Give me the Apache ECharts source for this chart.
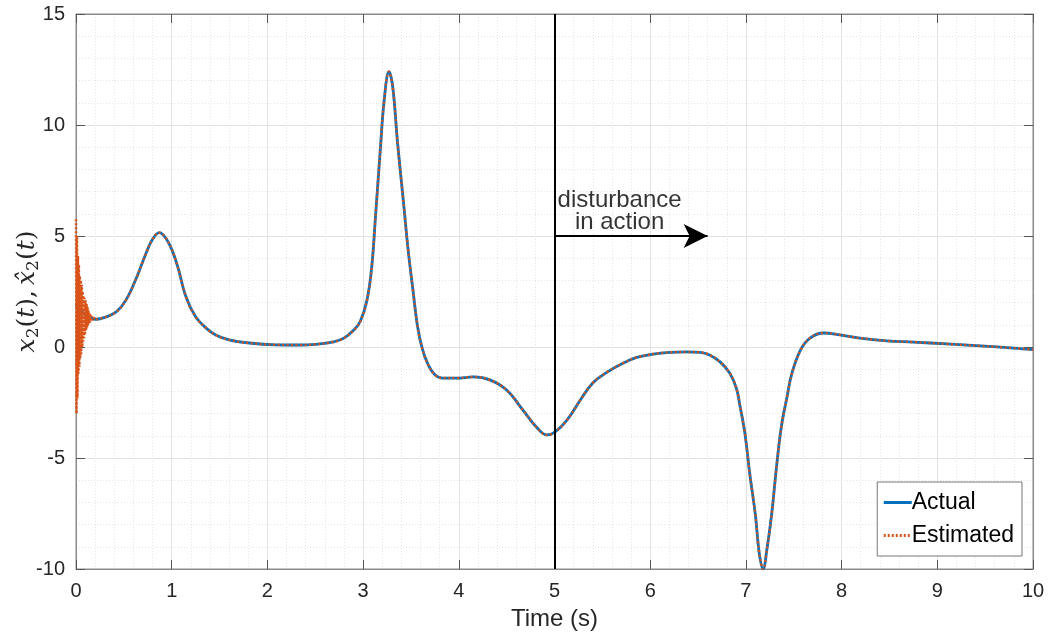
<!DOCTYPE html>
<html>
<head>
<meta charset="utf-8">
<script src="https://cdn.jsdelivr.net/npm/echarts@6/dist/echarts.min.js"></script>
<style>html,body{margin:0;padding:0;background:#fff;}#chart{width:1049px;height:643px;}</style>
</head>
<body>
<div id="chart"></div>
<script>
// ---- data ----
const timeActual = [0, 0.05, 0.1, 0.16, 0.21, 0.31, 0.42, 0.52, 0.63, 0.73, 0.8, 0.87, 0.96, 1.05, 1.15, 1.25, 1.36, 1.46, 1.6, 1.81, 2.09, 2.34, 2.5, 2.69, 2.8, 2.9, 2.97, 3.04, 3.09, 3.13, 3.18, 3.22, 3.27, 3.31, 3.36, 3.42, 3.47, 3.52, 3.57, 3.62, 3.68, 3.75, 3.83, 3.98, 4.15, 4.33, 4.5, 4.67, 4.82, 4.92, 5.0, 5.13, 5.27, 5.4, 5.55, 5.72, 5.86, 6.03, 6.21, 6.38, 6.52, 6.62, 6.73, 6.83, 6.9, 6.94, 6.99, 7.04, 7.1, 7.14, 7.18, 7.22, 7.27, 7.32, 7.37, 7.43, 7.48, 7.57, 7.67, 7.81, 7.98, 8.19, 8.47, 8.75, 9.1, 9.45, 9.8, 10];
const valueActual = [1.9, 1.65, 1.42, 1.3, 1.25, 1.35, 1.58, 2.1, 3.1, 4.2, 4.85, 5.15, 4.75, 3.8, 2.25, 1.36, 0.85, 0.54, 0.32, 0.18, 0.1, 0.09, 0.12, 0.23, 0.4, 0.75, 1.15, 2.1, 3.6, 5.9, 8.9, 11.1, 12.4, 11.7, 9.2, 6.6, 4.4, 2.6, 0.9, -0.1, -0.8, -1.25, -1.4, -1.4, -1.35, -1.49, -1.94, -2.84, -3.65, -3.96, -3.85, -3.29, -2.39, -1.62, -1.13, -0.72, -0.47, -0.32, -0.24, -0.22, -0.24, -0.36, -0.67, -1.17, -1.85, -2.7, -3.9, -5.7, -7.6, -9.3, -10, -9.1, -7.5, -5.4, -3.6, -2.24, -1.2, -0.14, 0.4, 0.63, 0.55, 0.4, 0.28, 0.22, 0.14, 0.05, -0.05, -0.12];
const timeEstEarly = [0, 0.005, 0.01, 0.015, 0.02, 0.025, 0.03, 0.035, 0.04, 0.045, 0.05, 0.055, 0.06, 0.065, 0.07, 0.075, 0.08, 0.085, 0.09, 0.095, 0.1, 0.105, 0.11, 0.115, 0.12, 0.125, 0.13, 0.135, 0.14, 0.145, 0.15, 0.155, 0.16, 0.17, 0.18, 0.19, 0.2, 0.21];
const valueEstEarly = [5.75, -3.0, 5.0, -2.3, 4.1, -1.2, 3.7, -0.9, 3.2, -0.5, 3.0, -0.3, 2.8, 0.0, 2.5, 0.25, 2.3, 0.4, 2.2, 0.6, 2.1, 0.75, 1.95, 0.85, 1.8, 0.95, 1.65, 1.05, 1.55, 1.1, 1.45, 1.15, 1.4, 1.2, 1.32, 1.24, 1.27, 1.25];
const xTicks = [0, 10, 1];        // min, max, interval
const yTicks = [-10, 15, 5];
const disturbanceTime = 5;
const arrowLevel = 5;
const arrowEndTime = 6.6;
const annotationAnchor = [5.68, 5];
const annotationText = 'disturbance\nin action';

// ---- build ----
const actualData = timeActual.map((t, i) => [t, valueActual[i]]);
const estEarlyData = timeEstEarly.map((t, i) => [t, valueEstEarly[i]]);
const estRestData = actualData.filter(d => d[0] >= 0.21);

const blue = '#0072BD', orange = '#D95319';
const axisLineColor = '#8a8a8a', tickColor = '#555';
const labelFont = 'Liberation Sans';

function baseX(extra) {
  return Object.assign({
    type: 'value', min: xTicks[0], max: xTicks[1], interval: xTicks[2],
    axisLine: { show: true, onZero: false, lineStyle: { color: axisLineColor, width: 1 } },
    axisTick: { show: true, inside: true, length: 9, lineStyle: { color: tickColor } },
  }, extra);
}
function baseY(extra) {
  return Object.assign({
    type: 'value', min: yTicks[0], max: yTicks[1], interval: yTicks[2],
    axisLine: { show: true, onZero: false, lineStyle: { color: axisLineColor, width: 1 } },
    axisTick: { show: true, inside: true, length: 9, lineStyle: { color: tickColor } },
  }, extra);
}

const chart = echarts.init(document.getElementById('chart'), null, { renderer: 'canvas' });
chart.setOption({
  animation: false,
  backgroundColor: '#fff',
  grid: { left: 76, right: 16, top: 14, bottom: 74, containLabel: false, outerBoundsMode: 'none',
          show: true, borderColor: axisLineColor, borderWidth: 1, backgroundColor: '#fff' },
  legend: {
    data: ['Actual', 'Estimated'],
    orient: 'vertical', right: 27, bottom: 87,
    backgroundColor: '#fff', borderColor: '#777', borderWidth: 1, borderRadius: 0,
    padding: [9, 8, 9, 5], itemGap: 10, itemWidth: 28, itemHeight: 14,
    itemStyle: { opacity: 0 },
    lineStyle: { width: 3 },
    textStyle: { fontFamily: labelFont, fontSize: 23, color: '#000', padding: [0, 0, 0, -5] }
  },
  xAxis: [
    baseX({
      position: 'bottom',
      name: 'Time (s)', nameLocation: 'middle', nameGap: 38, nameMoveOverlap: false,
      nameTextStyle: { fontFamily: labelFont, fontSize: 24, color: '#262626' },
      axisLabel: { show: true, margin: 12, fontFamily: labelFont, fontSize: 20, color: '#262626' },
      splitLine: { show: true, lineStyle: { color: '#e2e2e2', width: 1 } },
      minorTick: { show: false, splitNumber: 5 },
      minorSplitLine: { show: true, lineStyle: { color: '#e4e4e4', width: 1, type: [1, 2] } }
    }),
    baseX({ position: 'top', axisLabel: { show: false }, splitLine: { show: false } })
  ],
  yAxis: [
    baseY({
      position: 'left',
      name: '{i|x}{s|2}{n|(}{i|t}{n|),\u2009}{i|x\u0302}{s|2}{n|(}{i|t}{n|)}',
      nameLocation: 'middle', nameGap: 34, nameRotate: 90, nameMoveOverlap: false,
      nameTextStyle: {
        color: '#262626',
        rich: {
          i: { fontFamily: 'DejaVu Serif', fontStyle: 'italic', fontSize: 25, lineHeight: 30, color: '#262626' },
          n: { fontFamily: 'DejaVu Serif', fontSize: 25, lineHeight: 30, color: '#262626' },
          s: { fontFamily: 'DejaVu Serif', fontSize: 17, lineHeight: 20, verticalAlign: 'bottom', color: '#262626' }
        }
      },
      axisLabel: { show: true, margin: 11, fontFamily: labelFont, fontSize: 20, color: '#262626' },
      splitLine: { show: true, lineStyle: { color: '#e2e2e2', width: 1 } },
      minorTick: { show: false, splitNumber: 5 },
      minorSplitLine: { show: true, lineStyle: { color: '#e4e4e4', width: 1, type: [1, 2] } }
    }),
    baseY({ position: 'right', axisLabel: { show: false }, splitLine: { show: false } })
  ],
  series: [
    {
      name: 'Actual', type: 'line', data: actualData, smooth: 0.4,
      symbol: 'none', lineStyle: { color: blue, width: 2.8 }, itemStyle: { color: blue }, z: 3,
      markLine: {
        silent: true, animation: false,
        label: { show: false },
        data: [
          { xAxis: disturbanceTime, symbol: 'none', lineStyle: { color: '#000', width: 2, type: 'solid' } },
          [
            { coord: [disturbanceTime, arrowLevel], symbol: 'none' },
            { coord: [arrowEndTime, arrowLevel], symbol: 'arrow', symbolSize: [18, 24] }
          ]
        ],
        symbol: ['none', 'none'],
        lineStyle: { color: '#000', width: 2, type: 'solid' },
        itemStyle: { color: '#000' }
      }
    },
    {
      name: 'Estimated', type: 'line', data: estEarlyData, smooth: false,
      symbol: 'none', lineStyle: { color: orange, width: 2.5, type: [2, 2] }, itemStyle: { color: orange }, z: 4
    },
    {
      name: 'Estimated', type: 'line', data: estRestData, smooth: 0.4,
      symbol: 'none', lineStyle: { color: orange, width: 2.5, type: [2, 2.5] }, itemStyle: { color: orange }, z: 4
    },
    {
      name: 'annotation', type: 'scatter', data: [annotationAnchor], symbolSize: 0, silent: true, z: 6,
      label: {
        show: true, position: 'top', distance: 3, formatter: annotationText,
        fontFamily: labelFont, fontSize: 24, lineHeight: 22, color: '#000', align: 'center'
      }
    }
  ]
});
</script>
</body>
</html>
